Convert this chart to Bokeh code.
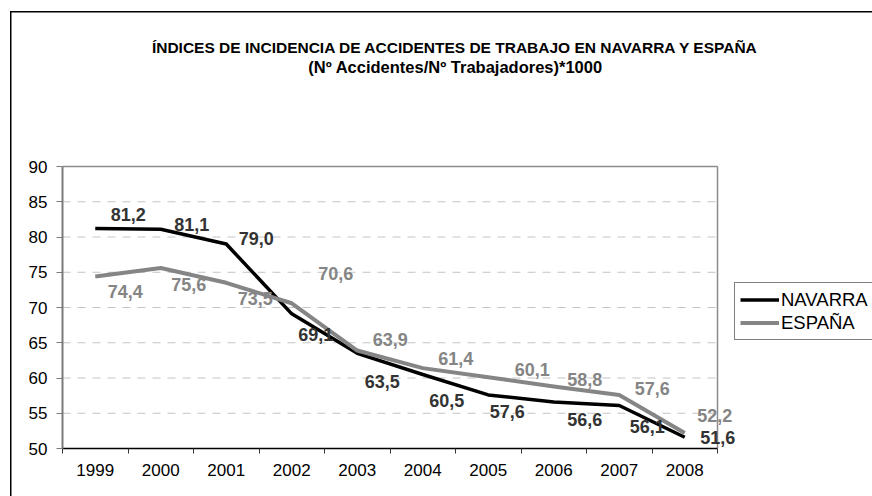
from bokeh.plotting import figure
from bokeh.models import (Range1d, FixedTicker, ColumnDataSource, LabelSet, Label,
                          Legend, LegendItem)
from bokeh.core.properties import value
from bokeh.embed import file_html
from bokeh.resources import INLINE

# ---------------- data ----------------
years = ["1999", "2000", "2001", "2002", "2003", "2004", "2005", "2006", "2007", "2008"]
navarra = [81.2, 81.1, 79.0, 69.1, 63.5, 60.5, 57.6, 56.6, 56.1, 51.6]
espana = [74.4, 75.6, 73.5, 70.6, 63.9, 61.4, 60.1, 58.8, 57.6, 52.2]
y_ticks = [50, 55, 60, 65, 70, 75, 80, 85, 90]
series_names = ["NAVARRA", "ESPAÑA"]
title_lines = ["ÍNDICES DE INCIDENCIA DE ACCIDENTES DE TRABAJO EN NAVARRA Y ESPAÑA",
               "(Nº Accidentes/Nº Trabajadores)*1000"]

# data-label offsets in pixels (right, up)
nav_dx = [33, 31, 30, 24, 25, 24, 19, 31, 28, 33]
nav_dy = [14, 5, 6, -21, -28, -26, -17, -18, -21, 0]
esp_dx = [30, 28, 29, 44, 33, 33, 44, 31, 33, 30]
esp_dy = [-15, -16, -16, 30, 11, 10, 8, 7, 6, 17]

FONT = "Liberation Sans"

# ---------------- geometry (pixels) ----------------
W, H = 872, 496
PLOT_L, PLOT_B = 62, 448          # left / bottom edge of the plotting area
PX_PER_CAT = 65.5                 # width of one category
PLOT_H = 282                      # height of the 50..90 band
n = len(years)
Y0, YT = y_ticks[0], y_ticks[-1]
PX_PER_Y = PLOT_H / (YT - Y0)
X1 = (W - PLOT_L) / PX_PER_CAT
Y1 = Y0 + PLOT_B / PX_PER_Y


def px_to_x(px):
    return (px - PLOT_L) / PX_PER_CAT


def py_to_y(py):
    return Y0 + (PLOT_B - py) / PX_PER_Y


xs = [i + 0.5 for i in range(n)]


def fmt(v):
    return f"{v:.1f}".replace(".", ",")


p = figure(width=W, height=H, x_range=Range1d(0, X1), y_range=Range1d(Y0, Y1),
           output_backend="svg", toolbar_location=None,
           min_border_left=PLOT_L, min_border_right=0, min_border_top=0,
           min_border_bottom=H - PLOT_B)
p.title.visible = False
p.background_fill_alpha = 0
p.border_fill_alpha = 0
p.outline_line_color = None
p.grid.visible = False

# outer chart border (left and top edges) painted behind the transparent canvas
p.styles = {
    "background-color": "white",
    "background-image": "linear-gradient(#000, #000), linear-gradient(#000, #000)",
    "background-size": "1.5px 100%, 100% 1.5px",
    "background-position": "10px 11px, 10px 11px",
    "background-repeat": "no-repeat",
}

# dashed horizontal grid and grey plot-area border (top and right)
inner = y_ticks[1:-1]
p.segment(x0=[0] * len(inner), y0=inner, x1=[n] * len(inner), y1=inner,
          line_color="#c4c4c4", line_width=1, line_dash="8 7")
p.segment(x0=[0, n], y0=[YT, Y0], x1=[n, n], y1=[YT, YT],
          line_color="#8c8c8c", line_width=1.5)

# y axis
p.yaxis.bounds = (Y0, YT)
p.yaxis.ticker = FixedTicker(ticks=y_ticks)
p.yaxis.axis_line_color = "#7a7a7a"
p.yaxis.axis_line_width = 2
p.yaxis.major_tick_line_color = "#7a7a7a"
p.yaxis.major_tick_out = 6
p.yaxis.major_tick_in = 0
p.yaxis.minor_tick_line_color = None
p.yaxis.major_label_text_font = FONT
p.yaxis.major_label_text_font_size = "17px"
p.yaxis.major_label_text_color = "black"
p.yaxis.major_label_standoff = 9

# x axis (labels at category centres, ticks between categories)
p.xaxis.bounds = (0, n)
p.xaxis.ticker = FixedTicker(ticks=xs, minor_ticks=list(range(n + 1)))
p.xaxis.major_label_overrides = {x: y for x, y in zip(xs, years)}
p.xaxis.major_tick_line_color = None
p.xaxis.major_tick_out = 5
p.xaxis.major_tick_in = 0
p.xaxis.minor_tick_line_color = "#333333"
p.xaxis.minor_tick_out = 5
p.xaxis.minor_tick_in = 0
p.xaxis.axis_line_color = "black"
p.xaxis.axis_line_width = 1.5
p.xaxis.major_label_text_font = FONT
p.xaxis.major_label_text_font_size = "17px"
p.xaxis.major_label_text_color = "black"
p.xaxis.major_label_standoff = 10

# lines
r_nav = p.line(xs, navarra, line_color="black", line_width=3.5, line_join="round")
r_esp = p.line(xs, espana, line_color="#858585", line_width=4, line_join="round")

# data labels
src_nav = ColumnDataSource(dict(x=xs, y=navarra, text=[fmt(v) for v in navarra], dx=nav_dx, dy=nav_dy))
src_esp = ColumnDataSource(dict(x=xs, y=espana, text=[fmt(v) for v in espana], dx=esp_dx, dy=esp_dy))
for src, col in ((src_nav, "#333333"), (src_esp, "#858585")):
    p.add_layout(LabelSet(x="x", y="y", text="text", x_offset="dx", y_offset="dy", source=src,
                          text_align="center", text_baseline="middle",
                          text_font=value(FONT), text_font_style="bold",
                          text_font_size="18px", text_color=col))

# titles
for line, py, size in zip(title_lines, [47, 66.5], ["15.5px", "16.5px"]):
    p.add_layout(Label(x=px_to_x(455), y=py_to_y(py), text=line, text_align="center",
                       text_baseline="middle", text_font=FONT, text_font_style="bold",
                       text_font_size=size, text_color="black"))

# legend
legend = Legend(items=[LegendItem(label=series_names[0], renderers=[r_nav]),
                       LegendItem(label=series_names[1], renderers=[r_esp])],
                location=(734 - PLOT_L, PLOT_B - 340),
                orientation="vertical", border_line_color="black", border_line_width=1,
                background_fill_color="white", background_fill_alpha=1,
                padding=5, spacing=0, margin=0, glyph_width=39, glyph_height=23,
                label_height=23, label_standoff=2, label_text_font=FONT,
                label_text_font_size="18.5px", label_text_color="black")
p.add_layout(legend)

open("out.html", "w").write(file_html(p, INLINE))
